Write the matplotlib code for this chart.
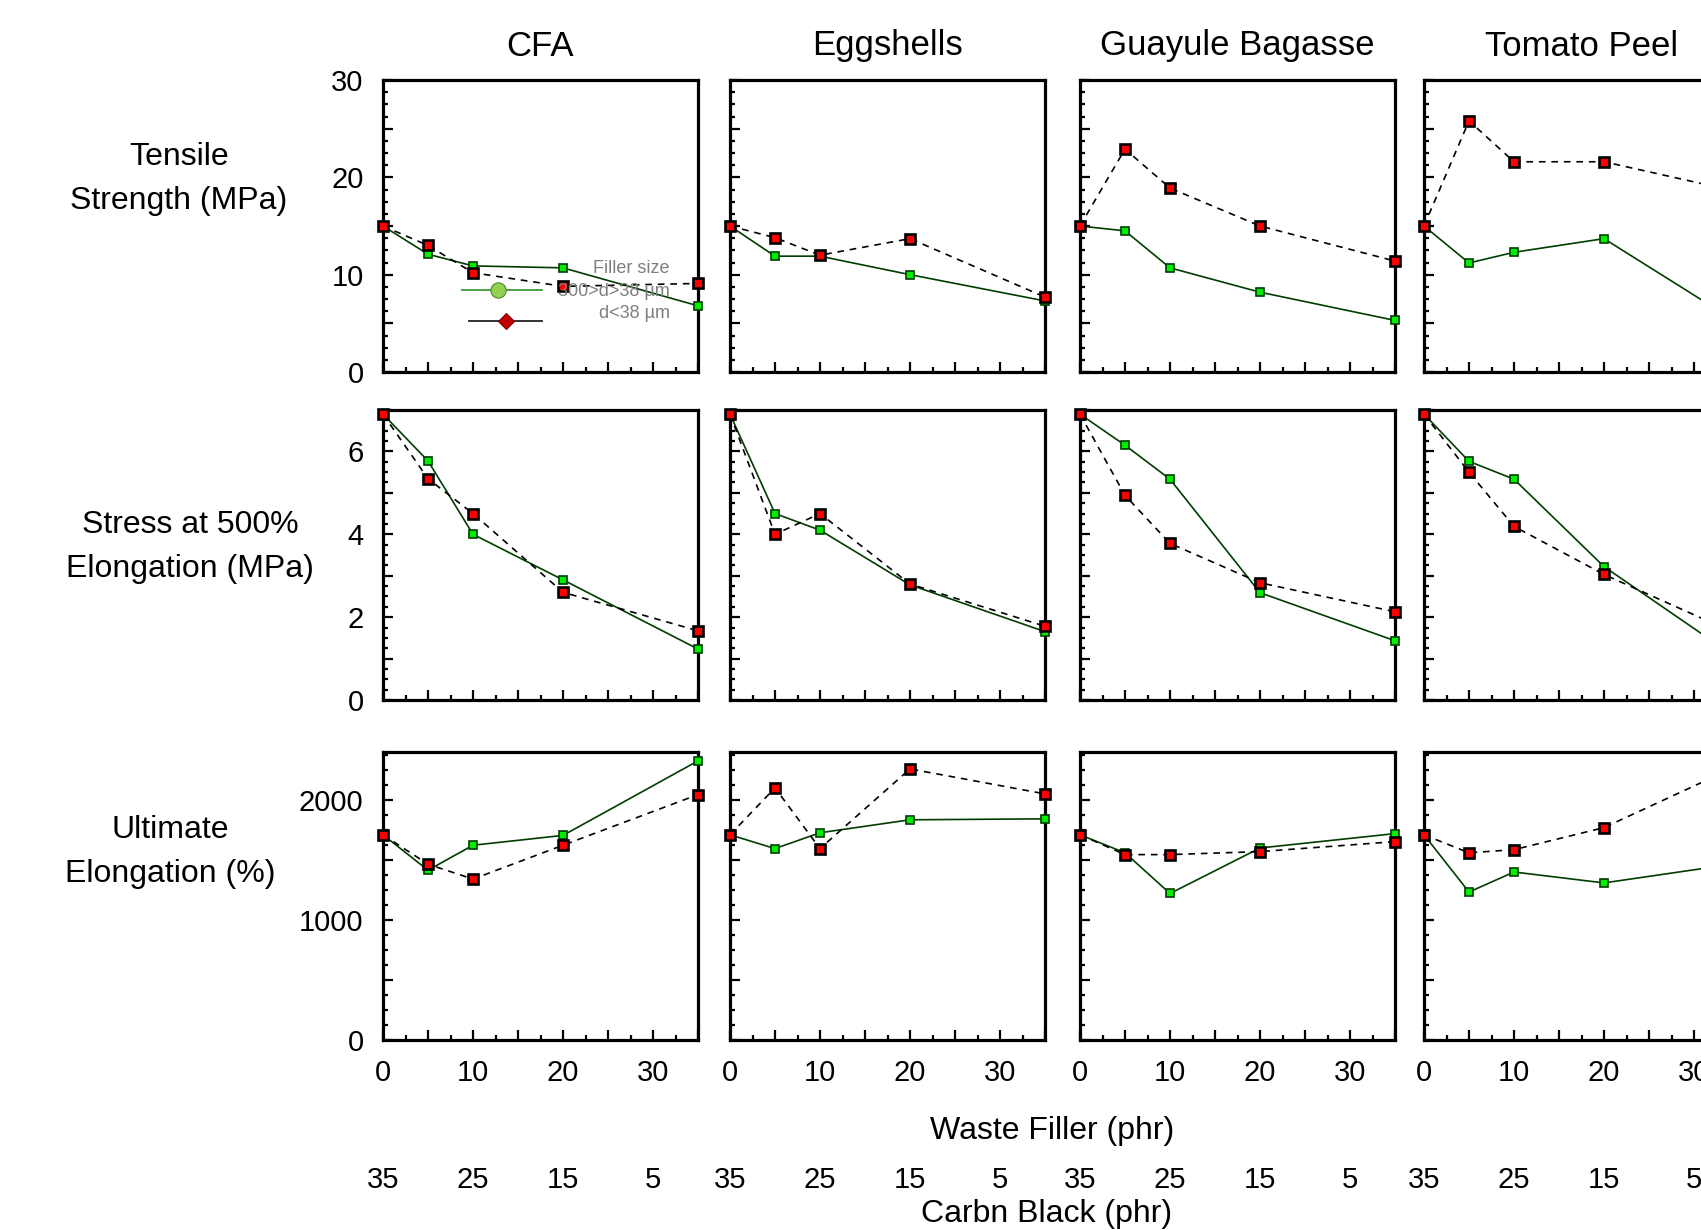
import matplotlib
matplotlib.use("Agg")
import matplotlib.pyplot as plt
from matplotlib.lines import Line2D
from matplotlib.ticker import MultipleLocator, FuncFormatter

plt.rcParams['font.family'] = ['Liberation Sans', 'DejaVu Sans']

# Datos
fillers = ['CFA', 'Eggshells', 'Guayule Bagasse', 'Tomato Peel']
filler_phr = [0, 5, 10, 20, 35]
carbon_black_phr = [35, 25, 15, 5]
xtick_labels = [0, 10, 20, 30]

row_labels = ['Tensile\nStrength (MPa)', 'Stress at 500%\nElongation (MPa)', 'Ultimate\nElongation (%)']

# 300>d>38 um (verde)
tensile_coarse = [[15, 12.1, 10.9, 10.7, 6.8],
                  [15, 11.9, 11.9, 10.0, 7.3],
                  [15, 14.5, 10.7, 8.2, 5.3],
                  [15, 11.2, 12.3, 13.7, 5.0]]
stress_coarse = [[6.9, 5.77, 4.0, 2.9, 1.23],
                 [6.9, 4.5, 4.1, 2.78, 1.65],
                 [6.9, 6.15, 5.33, 2.59, 1.43],
                 [6.9, 5.76, 5.33, 3.22, 0.98]]
elong_coarse = [[1710, 1415, 1623, 1705, 2326],
                [1710, 1595, 1727, 1835, 1843],
                [1710, 1560, 1221, 1600, 1720],
                [1710, 1233, 1400, 1309, 1473]]

# d<38 um (rojo)
tensile_fine = [[15, 13.0, 10.2, 8.8, 9.1],
                [15, 13.8, 12.0, 13.7, 7.7],
                [15, 22.9, 18.9, 15.0, 11.4],
                [15, 25.8, 21.6, 21.6, 18.5]]
stress_fine = [[6.9, 5.34, 4.5, 2.6, 1.67],
               [6.9, 4.0, 4.5, 2.8, 1.78],
               [6.9, 4.94, 3.78, 2.83, 2.13],
               [6.9, 5.5, 4.19, 3.03, 1.57]]
elong_fine = [[1710, 1465, 1341, 1623, 2045],
              [1710, 2101, 1595, 2259, 2051],
              [1710, 1545, 1545, 1570, 1653],
              [1710, 1560, 1586, 1770, 2290]]

coarse = [tensile_coarse, stress_coarse, elong_coarse]
fine = [tensile_fine, stress_fine, elong_fine]

y_lims = [30, 7, 2400]
y_major = [5, 1, 500]
y_minor = [1.25, 0.25, 125]
ytick_labels = [[0, 10, 20, 30], [0, 2, 4, 6], [0, 1000, 2000]]

# Posiciones (pixeles)
W, H = 1701, 1230
col_left = [383, 730, 1080, 1424]
col_w = 315
row_top = [80, 410, 752]
row_bot = [372, 700, 1040]

fig = plt.figure(figsize=(W / 100, H / 100), dpi=100)

axes = []
for r in range(3):
    for c in range(4):
        ax = fig.add_axes([col_left[c] / W, 1 - row_bot[r] / H,
                           col_w / W, (row_bot[r] - row_top[r]) / H])
        ax.plot(filler_phr, coarse[r][c], '-', color='#003d00', lw=1.2,
                marker='s', ms=5.5, mfc='#00ee00', mec='#003d00', mew=1.2,
                clip_on=False, zorder=3)
        ax.plot(filler_phr, fine[r][c], '--', color='black', lw=1.2, dashes=(4, 3.5),
                marker='s', ms=7.5, mfc='#ff0000', mec='black', mew=1.9,
                clip_on=False, zorder=4)
        ax.set_xlim(0, 35)
        ax.set_ylim(0, y_lims[r])
        for s in ax.spines.values():
            s.set_linewidth(2.3)
        ax.xaxis.set_major_locator(MultipleLocator(5))
        ax.xaxis.set_minor_locator(MultipleLocator(2.5))
        ax.yaxis.set_major_locator(MultipleLocator(y_major[r]))
        ax.yaxis.set_minor_locator(MultipleLocator(y_minor[r]))
        ax.tick_params(which='both', direction='in', top=False, right=False, width=1.6,
                       labelsize=21)
        ax.tick_params(which='major', length=7)
        ax.tick_params(which='minor', length=3.5)
        ax.tick_params(axis='x', pad=14)
        ax.tick_params(axis='y', pad=14)
        if r == 2:
            ax.xaxis.set_major_formatter(FuncFormatter(
                lambda v, p: '%d' % v if round(v) in xtick_labels else ''))
            for cb in carbon_black_phr:
                ax.text(35 - cb, -0.485, str(cb), transform=ax.get_xaxis_transform(),
                        ha='center', va='center', fontsize=21)
        else:
            ax.set_xticklabels([])
        if c == 0:
            labs = ytick_labels[r]
            ax.yaxis.set_major_formatter(FuncFormatter(
                lambda v, p, labs=labs: '%d' % v if round(v, 3) in labs else ''))
        else:
            ax.set_yticklabels([])
        axes.append(ax)

# Titulos de columnas
for c, name in enumerate(fillers):
    fig.text((col_left[c] + col_w / 2) / W, 1 - 46 / H, name, ha='center', va='center',
             fontsize=25)

# Etiquetas de filas
row_label_xy = [(179, 179), (190, 547), (170, 852)]
for lab, (x, y) in zip(row_labels, row_label_xy):
    fig.text(x / W, 1 - y / H, lab, ha='center', va='center', fontsize=23,
             linespacing=1.6)

fig.text(1052 / W, 1 - 1131 / H, 'Waste Filler (phr)', ha='center', va='center', fontsize=23)
fig.text(1047 / W, 1 - 1214 / H, 'Carbn Black (phr)', ha='center', va='center', fontsize=23)

# Leyenda dentro del panel CFA
ax0 = axes[0]
leg_font = dict(family=['Liberation Sans', 'DejaVu Sans'], fontsize=13, color='#7f7f7f')
ax0.add_line(Line2D([0.252, 0.505], [0.281, 0.281], transform=ax0.transAxes,
                    color='#3c9a3c', lw=1.3, zorder=5))
ax0.add_line(Line2D([0.364], [0.281], transform=ax0.transAxes, marker='o', ms=11,
                    mfc='#92d050', mec='#4e8a2e', mew=0.8, zorder=6))
ax0.add_line(Line2D([0.272, 0.505], [0.175, 0.175], transform=ax0.transAxes,
                    color='#222222', lw=1.3, zorder=5))
ax0.add_line(Line2D([0.39], [0.175], transform=ax0.transAxes, marker='D', ms=8,
                    mfc='#c00000', mec='#800000', mew=0.8, zorder=6))
ax0.text(0.911, 0.353, 'Filler size', transform=ax0.transAxes, ha='right', va='center',
         zorder=7, **leg_font)
ax0.text(0.911, 0.277, '300>d>38 µm', transform=ax0.transAxes, ha='right', va='center',
         zorder=7, **leg_font)
ax0.text(0.911, 0.199, 'd<38 µm', transform=ax0.transAxes, ha='right', va='center',
         zorder=7, **leg_font)

fig.savefig('out.png', dpi=100)
